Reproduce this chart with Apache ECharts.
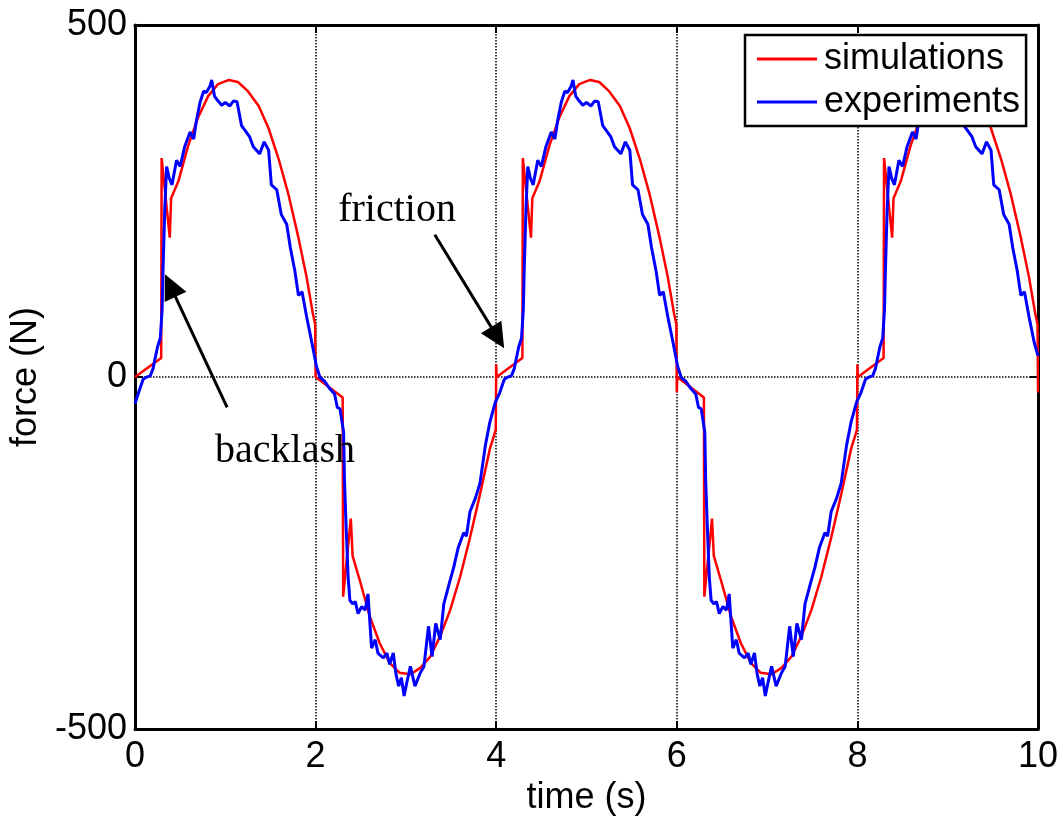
<!DOCTYPE html>
<html>
<head>
<meta charset="utf-8">
<script src="https://cdn.jsdelivr.net/npm/echarts@6/dist/echarts.min.js"></script>
<style>html,body{margin:0;padding:0;background:#fff;overflow:hidden}#c{width:1063px;height:821px}</style>
</head>
<body>
<div id="c"></div>
<script>
// ---- data ----
var xTicks = [0, 2, 4, 6, 8, 10];
var yTicks = [-500, 0, 500];

var simTime = [
  0,0.29,0.295,0.385,0.40,0.48,0.59,0.70,0.81,0.92,1.04,1.14,1.25,1.37,1.48,1.59,1.70,1.81,1.90,1.97,1.995,2.0,
  2.30,2.305,2.39,2.41,2.49,2.60,2.71,2.82,2.93,3.05,3.16,3.27,3.38,3.49,3.60,3.71,3.82,3.93,3.995,4.0,4.005,
  4.29,4.295,4.385,4.40,4.48,4.59,4.70,4.81,4.92,5.04,5.14,5.25,5.37,5.48,5.59,5.70,5.81,5.90,5.97,5.995,6.0,6.005,
  6.30,6.305,6.39,6.41,6.49,6.60,6.71,6.82,6.93,7.05,7.16,7.27,7.38,7.49,7.60,7.71,7.82,7.93,7.995,8.0,8.005,
  8.29,8.295,8.385,8.40,8.48,8.59,8.70,8.81,8.92,9.04,9.14,9.25,9.37,9.48,9.59,9.70,9.81,9.90,9.97,9.995,10.0
];
var simForce = [
  0,27,311,198,254,278,329,369,399,416,422,419,406,385,353,310,259,198,142,90,75,0,
  -29,-312,-201,-254,-289,-340,-378,-406,-420,-422,-413,-397,-368,-331,-284,-228,-167,-102,-75,18,0,
  27,311,198,254,278,329,369,399,416,422,419,406,385,353,310,259,198,142,90,75,-22,0,
  -29,-312,-201,-254,-289,-340,-378,-406,-420,-422,-413,-397,-368,-331,-284,-228,-167,-102,-75,18,0,
  27,311,198,254,278,329,369,399,416,422,419,406,385,353,310,259,198,142,90,75,-22
];

var expTime = [
  0.00,0.04,0.09,0.13,0.17,0.20,0.22,0.25,0.28,0.30,0.31,0.33,0.35,0.38,0.41,0.46,0.50,0.55,0.61,0.65,0.68,0.72,0.76,0.79,0.83,0.85,0.88,0.92,0.96,1.00,1.05,1.09,1.13,1.18,1.22,1.27,1.31,1.38,1.43,1.48,1.51,1.57,1.62,1.68,1.72,1.77,1.81,1.85,1.90,1.96,
  2.01,2.05,2.10,2.16,2.21,2.24,2.27,2.31,2.32,2.34,2.36,2.38,2.41,2.44,2.47,2.51,2.55,2.58,2.62,2.66,2.69,2.75,2.79,2.82,2.86,2.89,2.92,2.95,2.98,3.01,3.05,3.10,3.16,3.20,3.25,3.29,3.33,3.38,3.42,3.47,3.53,3.58,3.64,3.67,3.71,3.77,3.82,3.88,3.93,3.99,
  4.04,4.09,4.13,4.17,4.20,4.22,4.25,4.28,4.30,4.31,4.33,4.35,4.38,4.41,4.46,4.50,4.55,4.61,4.65,4.68,4.72,4.76,4.79,4.83,4.85,4.88,4.92,4.96,5.00,5.05,5.09,5.13,5.18,5.22,5.27,5.31,5.38,5.43,5.48,5.51,5.57,5.62,5.68,5.72,5.77,5.81,5.85,5.90,5.96,
  6.01,6.05,6.10,6.16,6.21,6.24,6.27,6.31,6.32,6.34,6.36,6.38,6.41,6.44,6.47,6.51,6.55,6.58,6.62,6.66,6.69,6.75,6.79,6.82,6.86,6.89,6.92,6.95,6.98,7.01,7.05,7.10,7.16,7.20,7.25,7.29,7.33,7.38,7.42,7.47,7.53,7.58,7.64,7.67,7.71,7.77,7.82,7.88,7.93,7.99,
  8.04,8.09,8.13,8.17,8.20,8.22,8.25,8.28,8.30,8.31,8.33,8.35,8.38,8.41,8.46,8.50,8.55,8.61,8.65,8.68,8.72,8.76,8.79,8.83,8.85,8.88,8.92,8.96,9.00,9.05,9.09,9.13,9.18,9.22,9.27,9.31,9.38,9.43,9.48,9.51,9.57,9.62,9.68,9.72,9.77,9.81,9.85,9.90,9.96,10.00
];
var expForce = [
  -38,-22,-3,0,2,12,25,43,55,95,151,240,299,282,273,308,299,327,348,338,364,390,406,404,413,422,399,392,386,390,385,392,391,357,350,341,327,317,334,322,273,266,231,217,184,151,116,121,86,48,
  15,-1,-6,-17,-24,-43,-45,-78,-148,-219,-284,-317,-322,-319,-336,-326,-331,-308,-385,-373,-392,-399,-392,-408,-392,-422,-439,-427,-453,-434,-411,-439,-420,-411,-354,-397,-350,-373,-322,-298,-270,-242,-221,-226,-191,-172,-151,-97,-64,-36,
  -22,-3,0,2,12,25,43,55,95,151,240,299,282,273,308,299,327,348,338,364,390,406,404,413,422,399,392,386,390,385,392,391,357,350,341,327,317,334,322,273,266,231,217,184,151,116,121,86,48,
  15,-1,-6,-17,-24,-43,-45,-78,-148,-219,-284,-317,-322,-319,-336,-326,-331,-308,-385,-373,-392,-399,-392,-408,-392,-422,-439,-427,-453,-434,-411,-439,-420,-411,-354,-397,-350,-373,-322,-298,-270,-242,-221,-226,-191,-172,-151,-97,-64,-36,
  -22,-3,0,2,12,25,43,55,95,151,240,299,282,273,308,299,327,348,338,364,390,406,404,413,422,399,392,386,390,385,392,391,357,350,341,327,317,334,322,273,266,231,217,184,151,116,121,86,48,30
];

// annotation anchors (data coordinates)
var backlashArrow = [[1.02, -43], [0.39, 130]];
var frictionArrow = [[3.32, 202], [4.016, 56]];
var backlashText = [0.886, -106];
var frictionText = [2.25, 237];

function zip(a, b) { var r = []; for (var i = 0; i < a.length; i++) r.push([a[i], b[i]]); return r; }

var SANS = '"Liberation Sans", Arial, sans-serif';
var SERIF = '"Liberation Serif", "Times New Roman", serif';

var chart = echarts.init(document.getElementById('c'));
var axisLine = { show: true, onZero: false, lineStyle: { color: '#000', width: 3 } };
var axisTick = { show: true, inside: true, length: 8, lineStyle: { color: '#000', width: 2 } };
var split = { show: true, lineStyle: { color: '#000', width: 1.5, type: 'dotted' } };

chart.setOption({
  animation: false,
  backgroundColor: '#fff',
  grid: { left: 135, right: 25, top: 25, bottom: 84, containLabel: false },
  legend: {
    left: 745, top: 35, orient: 'vertical', icon: 'rect',
    itemWidth: 60, itemHeight: 3, itemGap: 7,
    padding: [6, 6, 6, 12],
    borderColor: '#000', borderWidth: 2.5, backgroundColor: '#fff',
    textStyle: { fontSize: 36, fontFamily: SANS, color: '#000', padding: [0, 0, 0, 2] },
    data: ['simulations', 'experiments']
  },
  xAxis: [
    { type: 'value', min: xTicks[0], max: xTicks[xTicks.length - 1], interval: 2, position: 'bottom',
      axisLine: axisLine, axisTick: axisTick, splitLine: split,
      axisLabel: { fontSize: 36, fontFamily: SANS, color: '#000', margin: 10 },
      name: 'time (s)', nameLocation: 'middle', nameGap: 45,
      nameTextStyle: { fontSize: 36, fontFamily: SANS, color: '#000' } },
    { type: 'value', min: xTicks[0], max: xTicks[xTicks.length - 1], interval: 2, position: 'top',
      axisLine: axisLine, axisTick: axisTick, splitLine: { show: false }, axisLabel: { show: false } }
  ],
  yAxis: [
    { type: 'value', min: yTicks[0], max: yTicks[yTicks.length - 1], interval: 500, position: 'left',
      axisLine: axisLine, axisTick: axisTick, splitLine: split,
      axisLabel: { fontSize: 36, fontFamily: SANS, color: '#000', margin: 8 },
      name: 'force (N)', nameLocation: 'middle', nameGap: 88,
      nameTextStyle: { fontSize: 36, fontFamily: SANS, color: '#000' } },
    { type: 'value', min: yTicks[0], max: yTicks[yTicks.length - 1], interval: 500, position: 'right',
      axisLine: axisLine, axisTick: axisTick, splitLine: { show: false }, axisLabel: { show: false } }
  ],
  series: [
    { name: 'simulations', type: 'line', data: zip(simTime, simForce), symbol: 'none',
      lineStyle: { color: '#ff0000', width: 2.5 }, itemStyle: { color: '#ff0000' },
      markLine: {
        silent: true, symbol: ['none', 'triangle'], symbolSize: [24, 25],
        label: { show: false },
        lineStyle: { color: '#000', width: 3, type: 'solid' },
        data: [
          [{ coord: backlashArrow[0] }, { coord: backlashArrow[1] }],
          [{ coord: frictionArrow[0] }, { coord: frictionArrow[1] }]
        ]
      } },
    { name: 'experiments', type: 'line', data: zip(expTime, expForce), symbol: 'none',
      lineStyle: { color: '#0000ff', width: 3 }, itemStyle: { color: '#0000ff' } }
  ]
});

var pB = chart.convertToPixel({ gridIndex: 0 }, backlashText);
var pF = chart.convertToPixel({ gridIndex: 0 }, frictionText);
chart.setOption({
  graphic: [
    { type: 'text', x: pF[0], y: pF[1], z: 100,
      style: { text: 'friction', fontSize: 40, fontFamily: SERIF, fill: '#000', align: 'left', verticalAlign: 'middle' } },
    { type: 'text', x: pB[0], y: pB[1], z: 100,
      style: { text: 'backlash', fontSize: 40, fontFamily: SERIF, fill: '#000', align: 'left', verticalAlign: 'middle' } }
  ]
});
</script>
</body>
</html>
